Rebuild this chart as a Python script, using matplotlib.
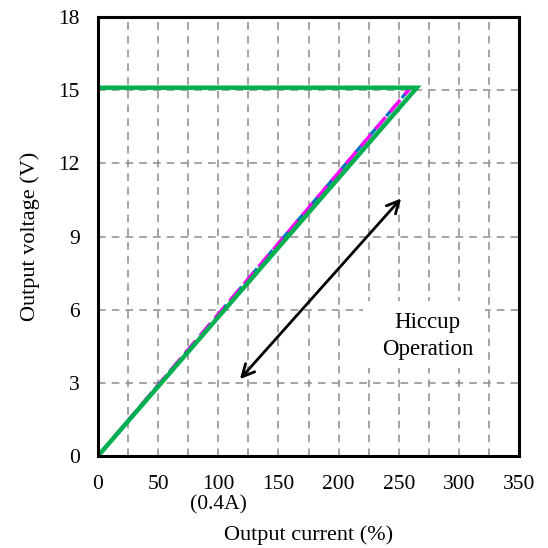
import matplotlib
matplotlib.use("Agg")
import matplotlib.pyplot as plt
from matplotlib.patches import Rectangle

# Data
green_x = [0, 265, 0]
green_y = [0, 15.1, 15.1]
magenta_x = [0, 259]
magenta_y = [0, 15.05]
blue_x = [0, 258]
blue_y = [0, 15.0]
arrow_start = (118, 3.15)
arrow_end = (252, 10.56)
x_ticks = [0, 50, 100, 150, 200, 250, 300, 350]
y_ticks = [0, 3, 6, 9, 12, 15, 18]
x_grid = list(range(25, 350, 25))
y_grid = [3, 6, 9, 12, 15]

plt.rcParams['font.family'] = ['Liberation Serif', 'DejaVu Serif']
fs = 15.5

fig = plt.figure(figsize=(5.48, 5.48), dpi=100)
ax = fig.add_axes([98/548, 1-456/548, (519-98)/548, (456-17)/548])
ax.set_xlim(0, 350)
ax.set_ylim(0, 18)

gridkw = dict(color='#8c8c8c', lw=1.1, linestyle=(0, (5, 4)), zorder=1)
for gx in x_grid:
    ax.axvline(gx, **gridkw)
for gy in y_grid:
    ax.axhline(gy, **gridkw)

# white box behind text
ax.add_patch(Rectangle((220, 3.6), 102, 2.75, facecolor='white', edgecolor='none', zorder=2))

ax.plot(blue_x, blue_y, color='#0070C0', lw=2.3, linestyle=(3, (5, 2.5)), zorder=3)
ax.plot(magenta_x, magenta_y, color='#FF00FF', lw=2.5, linestyle=(0, (4.5, 2)), zorder=4)
ax.plot(green_x, green_y, color='#00B050', lw=3.2, zorder=5, solid_joinstyle='miter')

ax.annotate('', xy=arrow_end, xytext=arrow_start,
            arrowprops=dict(arrowstyle='<->', color='black', lw=2.0, mutation_scale=22,
                            shrinkA=0, shrinkB=0), zorder=6)

ax.text(274, 4.93, 'Hiccup\nOperation', ha='center', va='center', fontsize=16.5,
        linespacing=1.35, zorder=7)

ax.set_xticks(x_ticks)
ax.set_yticks(y_ticks)
ax.tick_params(length=0, labelsize=fs)
ax.tick_params(axis='x', pad=14)
ax.tick_params(axis='y', pad=13)
for s in ax.spines.values():
    s.set_linewidth(2.2)
    s.set_color('black')
    s.set_zorder(10)

ax.text(100, -0.112, '(0.4A)', transform=ax.get_xaxis_transform(), ha='center', va='center', fontsize=fs)
ax.set_xlabel('Output current (%)', fontsize=16, labelpad=22)
ax.set_ylabel('Output voltage (V)', fontsize=16, labelpad=13)

fig.savefig('out.png', dpi=100)
